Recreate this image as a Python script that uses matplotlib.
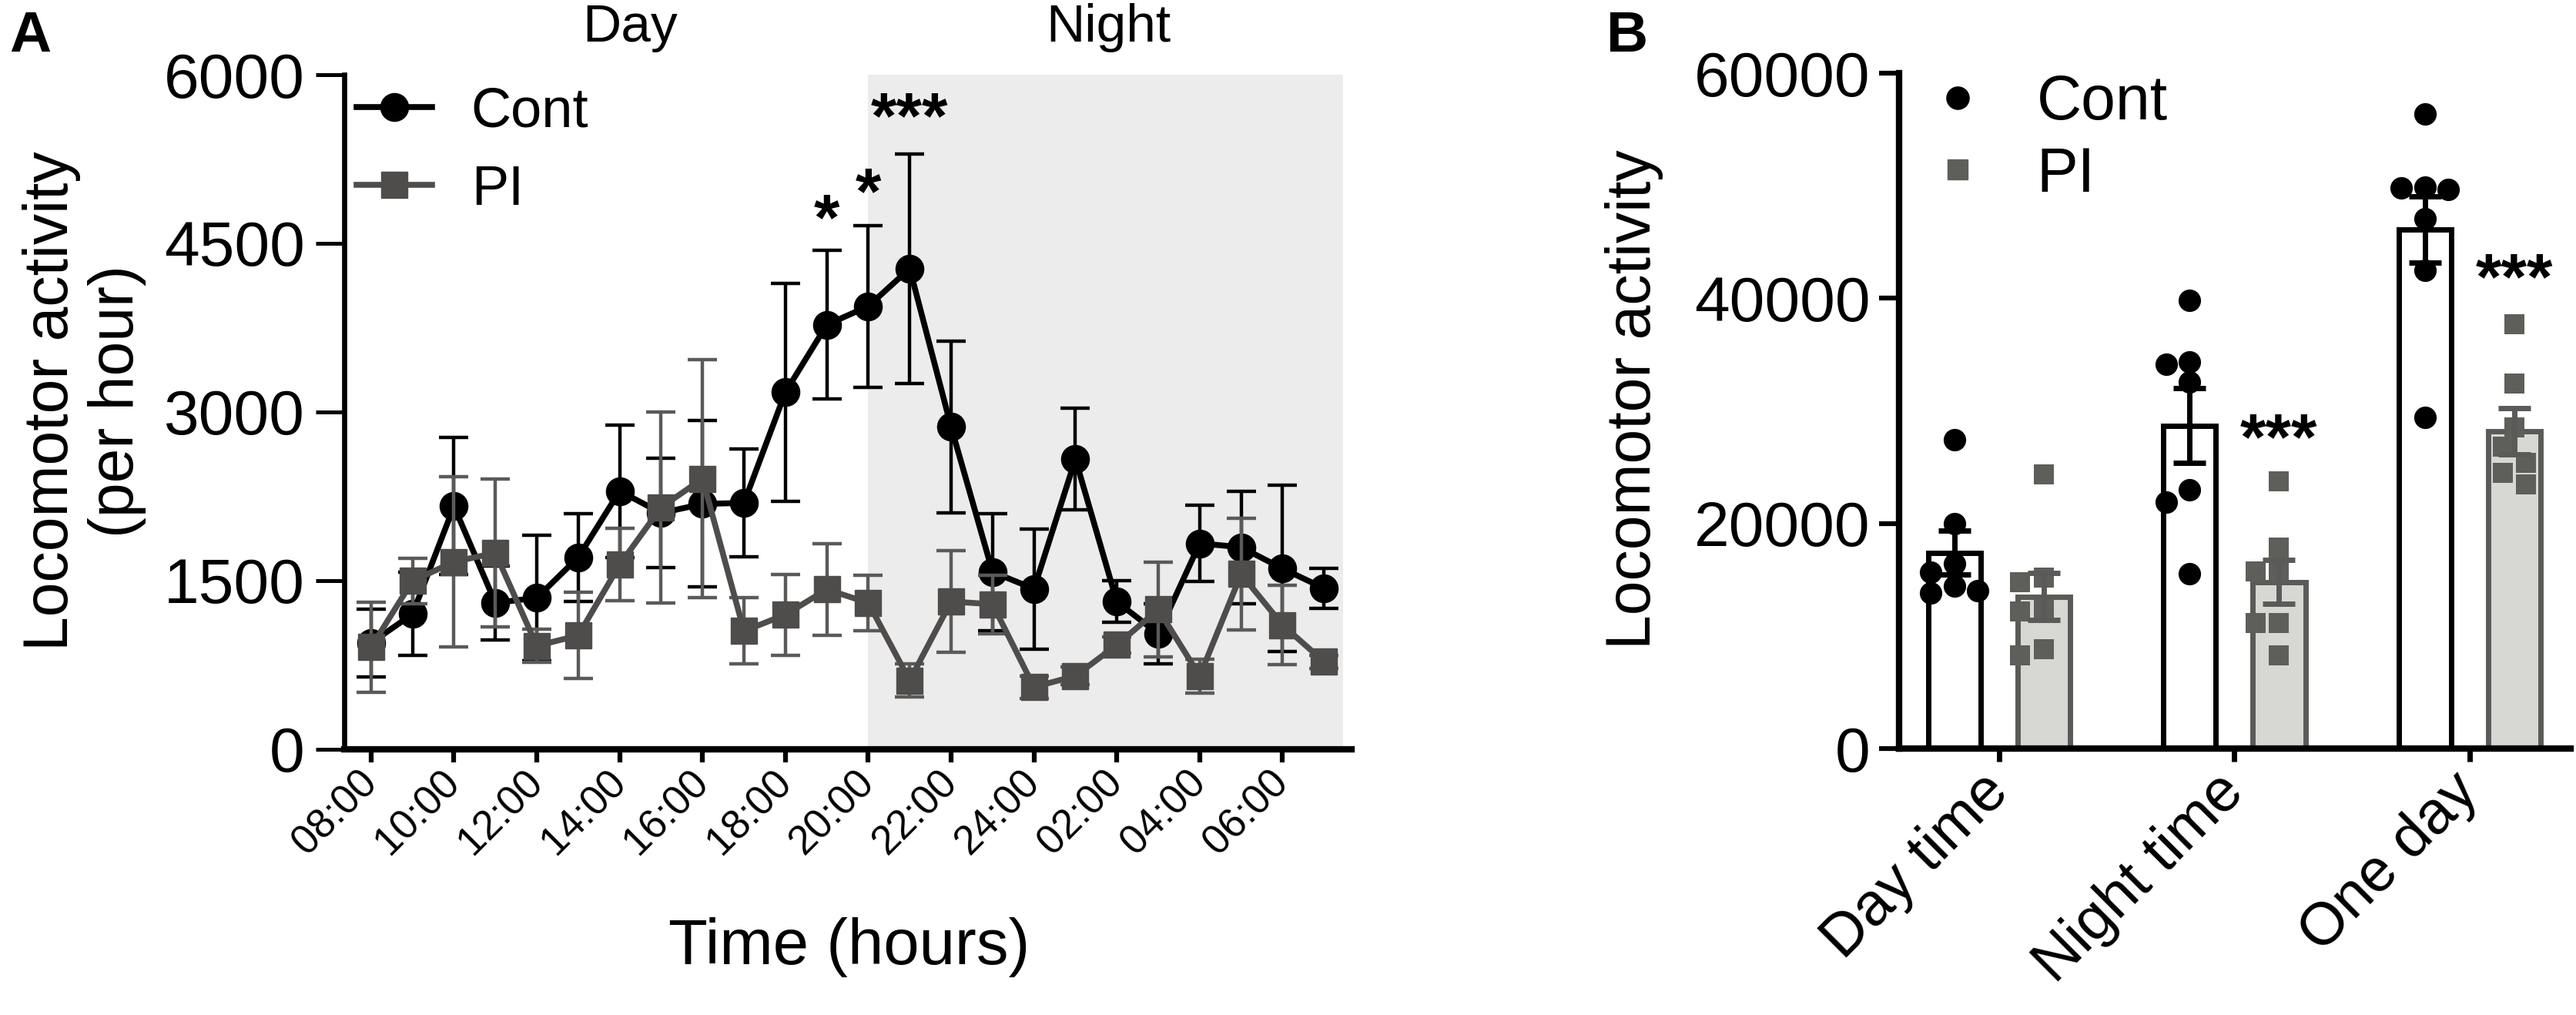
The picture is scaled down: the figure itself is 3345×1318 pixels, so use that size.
import numpy as np
import matplotlib
matplotlib.use("Agg")
import matplotlib.pyplot as plt
from matplotlib.lines import Line2D

plt.rcParams['font.family'] = ['Liberation Sans', 'DejaVu Sans']

# ---- panel A: hourly activity (mean, SEM) ----
hour_labels = ["08:00", "10:00", "12:00", "14:00", "16:00", "18:00",
               "20:00", "22:00", "24:00", "02:00", "04:00", "06:00"]
cont_mean = [944, 1200, 2160, 1300, 1345, 1705, 2295, 2100, 2180, 2190, 3175, 3775,
             3940, 4275, 2865, 1575, 1425, 2580, 1310, 1025, 1830, 1795, 1605, 1430]
cont_sem = [300, 370, 610, 330, 560, 390, 590, 485, 740, 480, 970, 660,
            720, 1020, 765, 520, 535, 453, 185, 270, 340, 500, 740, 180]
pi_mean = [905, 1495, 1665, 1745, 918, 1010, 1640, 2150, 2405, 1050, 1195, 1420,
           1300, 610, 1312, 1288, 551, 650, 926, 1241, 650, 1556, 1103, 776]
pi_sem = [400, 200, 760, 660, 150, 385, 323, 850, 1060, 295, 360, 410,
          245, 145, 450, 260, 100, 80, 70, 420, 150, 500, 355, 60]
# significance marks: (hour index, text, y of mark)
sig_a = [(11, "*", 4885), (12, "*", 5118), (13, "***", 5790)]

# ---- panel B: totals ----
groups = ["Day time", "Night time", "One day"]
cont_bar = [17400, 28700, 46100]
cont_bar_sem = [1950, 3300, 2950]
pi_bar = [13500, 14800, 28200]
pi_bar_sem = [2100, 1950, 2050]
cont_pts = [[27430, 20010, 16400, 15670, 14410, 13840, 14000],
            [39830, 34380, 34120, 32540, 22970, 21920, 15500],
            [56400, 49900, 49800, 49700, 47100, 42500, 29390]]
pi_pts = [[24350, 15200, 14800, 12300, 12200, 8300, 8800],
          [23760, 17860, 15760, 15760, 11170, 11170, 8290],
          [37700, 32460, 28500, 26800, 25400, 24500, 23500]]
sig_b = [(1, "***", 29260), (2, "***", 43440)]

BLACK = "black"
GREY = "#4f4c4c"
GREY_ERR = "#5a5a5a"
PT_GREY = "#5e5e5b"
BAR_FILL = "#d7d7d3"
BAR_EDGE = "#5a5a58"


def swarm(values, center, step, dx_d, dy_d):
    values = np.asarray(values, dtype=float)
    xs = np.zeros(len(values))
    placed = []
    for i in np.argsort(values)[::-1]:
        v = values[i]
        for k in [0, -1, 1, -2, 2, -3, 3]:
            x = center + k * step
            if all(((x - px) / dx_d) ** 2 + ((v - pv) / dy_d) ** 2 >= 0.8 for px, pv in placed):
                break
        placed.append((x, v))
        xs[i] = x
    return xs


fig = plt.figure(figsize=(33.45, 13.18), dpi=100)

# ================= panel A =================
ax1 = fig.add_axes([0.1336, 0.2621, 0.3910, 0.6643])
x = np.arange(len(cont_mean))
ax1.axvspan(12, 23.46, color="#ececec", zorder=0, lw=0)

ax1.errorbar(x, cont_mean, yerr=cont_sem, fmt="none", ecolor=BLACK,
             elinewidth=3.2, capsize=14, capthick=3.2, zorder=2)
ax1.plot(x, cont_mean, "-o", color=BLACK, lw=5.5, ms=26, zorder=3, label="Cont")
ax1.errorbar(x, pi_mean, yerr=pi_sem, fmt="none", ecolor=GREY_ERR,
             elinewidth=3.2, capsize=14, capthick=3.2, zorder=4)
ax1.plot(x, pi_mean, "-s", color=GREY, lw=5.5, ms=25, zorder=5, label="PI")

ax1.set_xlim(-0.65, 23.66)
ax1.set_ylim(0, 6000)
ax1.set_yticks([0, 1500, 3000, 4500, 6000])
ax1.set_xticks(np.arange(0, 24, 2))
ax1.set_xticklabels(hour_labels, rotation=45, ha="right", va="center",
                    rotation_mode="anchor", fontsize=38)
ax1.tick_params(axis="y", labelsize=59, length=27, width=3.6, pad=10)
ax1.tick_params(axis="x", length=12, width=4.5, pad=14)
for s in ["top", "right"]:
    ax1.spines[s].set_visible(False)
ax1.spines["left"].set_linewidth(4.8)
ax1.spines["bottom"].set_linewidth(6)

ax1.set_ylabel("Locomotor activity\n(per hour)", fontsize=58, linespacing=1.15)
ax1.yaxis.set_label_coords(-0.1965, 0.516)
ax1.set_xlabel("Time (hours)", fontsize=60)
ax1.xaxis.set_label_coords(0.5015, -0.25)

for xi, txt, yv in sig_a:
    ax1.annotate(txt, xy=(xi, yv), xytext=(0, -37), textcoords="offset points",
                 ha="center", va="baseline", fontsize=62, fontweight="bold")

ax1.legend(loc="upper left", bbox_to_anchor=(0.0122, 0.982), frameon=False,
           fontsize=52, handlelength=1.36, handletextpad=0.7, labelspacing=0.47,
           borderpad=0, borderaxespad=0)

# ================= panel B =================
ax2 = fig.add_axes([0.7372, 0.2625, 0.2607, 0.6654])
pos = np.arange(len(groups))
off = 0.19
bw = 0.223
ax2.bar(pos - off, cont_bar, width=bw, color="white", edgecolor=BLACK, lw=5, zorder=1)
ax2.bar(pos + off, pi_bar, width=bw, color=BAR_FILL, edgecolor=BAR_EDGE, lw=5, zorder=1)

for g in range(len(groups)):
    xc = swarm(cont_pts[g], pos[g] - off, 0.05, 0.095, 1990)
    ax2.scatter(xc, cont_pts[g], marker="o", s=21 ** 2, color=BLACK, lw=0, zorder=2)
    xp = swarm(pi_pts[g], pos[g] + off, 0.05, 0.095, 1990)
    ax2.scatter(xp, pi_pts[g], marker="s", s=19 ** 2, color=PT_GREY, lw=0, zorder=2)

ax2.errorbar(pos - off, cont_bar, yerr=cont_bar_sem, fmt="none", ecolor=BLACK,
             elinewidth=5, capsize=15, capthick=5, zorder=4)
ax2.errorbar(pos + off, pi_bar, yerr=pi_bar_sem, fmt="none", ecolor=BAR_EDGE,
             elinewidth=5, capsize=15, capthick=5, zorder=4)

for gi, txt, yv in sig_b:
    ax2.annotate(txt, xy=(pos[gi] + off, yv), xytext=(0, -37), textcoords="offset points",
                 ha="center", va="baseline", fontsize=62, fontweight="bold")

ax2.set_xlim(-0.4255, 2.429)
ax2.set_ylim(0, 60000)
ax2.set_yticks([0, 20000, 40000, 60000])
ax2.set_xticks(pos)
ax2.set_xticklabels(groups, rotation=45, ha="right", va="center",
                    rotation_mode="anchor", fontsize=56)
ax2.tick_params(axis="y", labelsize=59, length=19, width=4.5, pad=8)
ax2.tick_params(axis="x", length=12, width=5, pad=20)
for s in ["top", "right"]:
    ax2.spines[s].set_visible(False)
ax2.spines["left"].set_linewidth(6)
ax2.spines["bottom"].set_linewidth(6)
ax2.set_ylabel("Locomotor activity", fontsize=58)
ax2.yaxis.set_label_coords(-0.351, 0.5165)

leg_handles = [Line2D([], [], ls="none", marker="o", ms=21, color=BLACK),
               Line2D([], [], ls="none", marker="s", ms=19, color=PT_GREY)]
ax2.legend(leg_handles, ["Cont", "PI"], loc="upper left", bbox_to_anchor=(0.0459, 0.999),
           frameon=False, fontsize=58, handlelength=0.9, handletextpad=0.82,
           labelspacing=0.22, borderpad=0, borderaxespad=0)

# ---- figure texts ----
fig.text(818 / 3345, 1 - 54 / 1318, "Day", ha="center", va="baseline", fontsize=50)
fig.text(1439 / 3345, 1 - 54 / 1318, "Night", ha="center", va="baseline", fontsize=50)
fig.text(12 / 3345, 1 - 67 / 1318, "A", ha="left", va="baseline", fontsize=54, fontweight="bold")
fig.text(2086 / 3345, 1 - 67 / 1318, "B", ha="left", va="baseline", fontsize=54, fontweight="bold")

fig.savefig("out.png", dpi=100, facecolor="white")
